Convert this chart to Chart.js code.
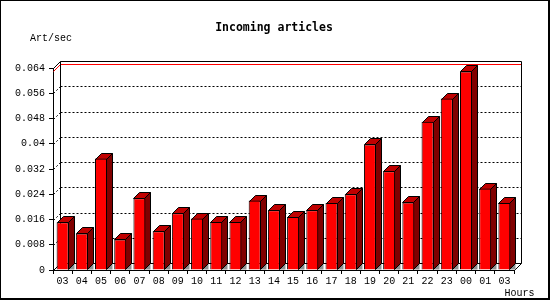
<!DOCTYPE html>
<html>
<head>
<meta charset="utf-8">
<script src="https://cdn.jsdelivr.net/npm/chart.js@4.4.0/dist/chart.umd.min.js"></script>
<style>
  html, body { margin: 0; padding: 0; background: #fff; }
  canvas { display: block; }
</style>
</head>
<body>
<canvas id="chart" width="550" height="300"></canvas>
<script>
// 시간대 (x축)
const hours = ['03', '04', '05', '06', '07', '08', '09', '10', '11', '12', '13', '14',
               '15', '16', '17', '18', '19', '20', '21', '22', '23', '00', '01', '03'];
// 초당 들어온 기사 수
const artPerSec = [0.0151, 0.0116, 0.0353, 0.0097, 0.0227, 0.0123, 0.0180, 0.0163,
                   0.0152, 0.0152, 0.0220, 0.0189, 0.0168, 0.0189, 0.0212, 0.0240,
                   0.0398, 0.0313, 0.0214, 0.0470, 0.0543, 0.0629, 0.0258, 0.0212];
// y축 눈금
const yTickValues = [0, 0.008, 0.016, 0.024, 0.032, 0.04, 0.048, 0.056, 0.064];
const yTickLabels = ['0', '0.008', '0.016', '0.024', '0.032', '0.04', '0.048', '0.056', '0.064'];

const barDepth = 6;   // 막대 깊이
const wallDepth = 7;  // 배경 벽 깊이

Chart.defaults.font.family = '"Liberation Mono", monospace';
Chart.defaults.font.size = 10;
Chart.defaults.color = '#000';

function poly(ctx, pts, fill, stroke) {
    ctx.beginPath();
    ctx.moveTo(pts[0][0], pts[0][1]);
    for (let i = 1; i < pts.length; i++) ctx.lineTo(pts[i][0], pts[i][1]);
    ctx.closePath();
    if (fill) { ctx.fillStyle = fill; ctx.fill(); }
    if (stroke) { ctx.strokeStyle = stroke; ctx.lineWidth = 1; ctx.stroke(); }
}

function line(ctx, x1, y1, x2, y2, color, dash) {
    ctx.beginPath();
    ctx.setLineDash(dash || []);
    ctx.moveTo(x1, y1);
    ctx.lineTo(x2, y2);
    ctx.strokeStyle = color;
    ctx.lineWidth = 1;
    ctx.stroke();
    ctx.setLineDash([]);
}

// 3D 벽, 격자, 막대 옆면/윗면
const bars3d = {
    id: 'bars3d',
    beforeDatasetsDraw(chart) {
        const ctx = chart.ctx;
        const a = chart.chartArea;
        const ys = chart.scales.y;
        const w = wallDepth;
        const L = Math.round(a.left) + 0.5, R = Math.round(a.right) + 0.5;
        const T = Math.round(a.top) + 0.5, B = Math.round(a.bottom) + 0.5;
        ctx.save();

        // 격자선 (뒷벽)
        yTickValues.forEach(v => {
            if (v === 0 || v === yTickValues[yTickValues.length - 1]) return;
            const py = Math.round(ys.getPixelForValue(v)) + 0.5;
            line(ctx, L + w, py - w, R + w, py - w, '#000', [2, 2]);
            line(ctx, L, py, L + w, py - w, '#000', [2, 2]);
        });

        // 최대값 선
        const pm = Math.round(ys.getPixelForValue(Math.max(...artPerSec))) + 0.5;
        line(ctx, L + w, pm - w, R + w, pm - w, '#f00');
        line(ctx, L, pm, L + w, pm - w, '#f00');

        // 뒷벽 테두리
        line(ctx, L + w, T - w, R + w, T - w, '#000');
        line(ctx, L + w, T - w, L + w, B - w, '#000');
        line(ctx, R + w, T - w, R + w, B - w, '#000');
        line(ctx, L + w, B - w, R + w, B - w, '#000');
        line(ctx, L, T, L + w, T - w, '#000');
        line(ctx, L, B, L + w, B - w, '#000');
        line(ctx, R, B, R + w, B - w, '#000');

        // 막대 옆면, 윗면
        const d = barDepth;
        chart.getDatasetMeta(0).data.forEach(bar => {
            const left = Math.round(bar.x - bar.width / 2) + 0.5;
            const right = Math.round(bar.x + bar.width / 2) - 0.5;
            const top = Math.round(bar.y) + 0.5;
            const bottom = Math.round(bar.base) - 0.5;
            poly(ctx, [[right, bottom], [right + d, bottom - d], [right + d, bottom]], '#909090', null);
            poly(ctx, [[right, top], [right + d, top - d], [right + d, bottom - d], [right, bottom]], '#800000', '#000');
            poly(ctx, [[left, top], [left + d, top - d], [right + d, top - d], [right, top]], '#c00000', '#000');
        });
        ctx.restore();
    },
    afterDraw(chart) {
        const ctx = chart.ctx;
        ctx.save();
        ctx.fillStyle = '#000';
        ctx.textBaseline = 'alphabetic';
        ctx.font = 'bold 11.5px "DejaVu Sans Mono", monospace';
        ctx.textAlign = 'center';
        ctx.fillText('Incoming articles', 274, 30.5);
        ctx.font = '10px "Liberation Mono", monospace';
        ctx.textAlign = 'left';
        ctx.fillText('Art/sec', 30, 40.5);
        ctx.fillText('Hours', 504.5, 295.5);
        // 바깥 테두리
        ctx.strokeStyle = '#000';
        ctx.lineWidth = 1;
        ctx.strokeRect(0.5, 0.5, 548, 298);
        line(ctx, 549.5, 0, 549.5, 300, '#000');
        line(ctx, 0, 299.5, 550, 299.5, '#000');
        ctx.restore();
    }
};

new Chart(document.getElementById('chart'), {
    type: 'bar',
    data: {
        labels: hours,
        datasets: [{
            label: 'Art/sec',
            data: artPerSec,
            backgroundColor: '#ff0000',
            borderColor: '#000',
            borderWidth: 1,
            categoryPercentage: 0.625,
            barPercentage: 1
        }]
    },
    options: {
        responsive: false,
        animation: false,
        devicePixelRatio: 1,
        layout: { padding: { top: 68, right: 36, left: 0, bottom: 0 } },
        plugins: {
            legend: { display: false },
            tooltip: { enabled: false }
        },
        scales: {
            x: {
                afterFit(s) { s.height = 30; },
                grid: { drawOnChartArea: false, drawTicks: true, tickLength: 4, color: '#000', offset: true },
                border: { display: true, color: '#000' },
                ticks: { padding: 1, maxRotation: 0, autoSkip: false }
            },
            y: {
                min: 0,
                max: 0.064,
                afterFit(s) { s.width = 53; },
                afterBuildTicks(s) { s.ticks = yTickValues.map(v => ({ value: v })); },
                grid: { drawOnChartArea: false, drawTicks: true, tickLength: 4, color: '#000' },
                border: { display: true, color: '#000' },
                ticks: { padding: 4, callback: (v, i) => yTickLabels[i] }
            }
        }
    },
    plugins: [bars3d]
});
</script>
</body>
</html>
